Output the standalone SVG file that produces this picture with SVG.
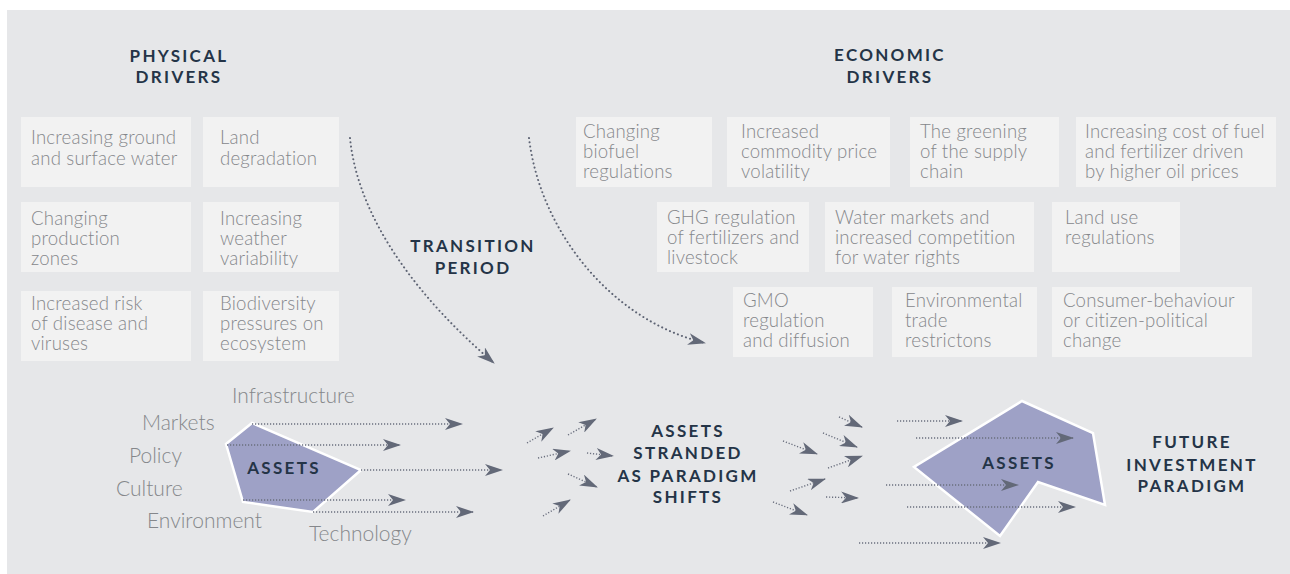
<svg xmlns="http://www.w3.org/2000/svg" width="1290" height="574" viewBox="0 0 1290 574">
<style>
.box{fill:#f2f2f2}
.t{font-family:Lato,"Open Sans","Liberation Sans",sans-serif;font-size:18.6px;font-weight:300;letter-spacing:0.2px;fill:#85878b}
.lbl{font-family:Lato,"Open Sans","Liberation Sans",sans-serif;font-size:21px;font-weight:300;fill:#85878b}
.h{font-family:Lato,"Open Sans","Liberation Sans",sans-serif;font-size:17px;font-weight:700;fill:#243447;letter-spacing:2.3px;text-anchor:middle}
.poly{fill:#9ea1c6;stroke:#ffffff;stroke-width:2.5;stroke-linejoin:miter}
.dl{fill:none;stroke:#6a6f7e;stroke-width:1.4;stroke-dasharray:1.2 1.8}
.curve{fill:none;stroke:#5d6373;stroke-width:2;stroke-linecap:round;stroke-dasharray:0.1 4.2}
</style>
<defs>
<marker id="ah" viewBox="0 0 18 12" refX="17" refY="6" markerWidth="18" markerHeight="12" markerUnits="userSpaceOnUse" orient="auto">
<path d="M0,0 L18,6 L0,12 L5,6 Z" fill="#636978"/>
</marker>
</defs>
<rect x="7" y="10" width="1283" height="564" fill="#e6e7e9"/>

<g id="physical-header">
<text class="h" x="179" y="62">PHYSICAL</text>
<text class="h" x="179" y="83">DRIVERS</text>
</g>
<g id="economic-header">
<text class="h" x="890" y="61">ECONOMIC</text>
<text class="h" x="890" y="83">DRIVERS</text>
</g>
<g id="transition-label">
<text class="h" x="473" y="252">TRANSITION</text>
<text class="h" x="473" y="274">PERIOD</text>
</g>

<g id="p1"><rect class="box" x="21" y="117" width="170" height="70"/><text class="t" x="31" y="144">Increasing ground<tspan x="31" y="165">and surface water</tspan></text></g>
<g id="p2"><rect class="box" x="203" y="117" width="136" height="70"/><text class="t" x="220" y="144">Land<tspan x="220" y="165">degradation</tspan></text></g>
<g id="p3"><rect class="box" x="21" y="202" width="170" height="70"/><text class="t" x="31" y="225">Changing<tspan x="31" y="245">production</tspan><tspan x="31" y="265">zones</tspan></text></g>
<g id="p4"><rect class="box" x="203" y="202" width="136" height="70"/><text class="t" x="220" y="225">Increasing<tspan x="220" y="245">weather</tspan><tspan x="220" y="265">variability</tspan></text></g>
<g id="p5"><rect class="box" x="21" y="291" width="170" height="70"/><text class="t" x="31" y="310">Increased risk<tspan x="31" y="330">of disease and</tspan><tspan x="31" y="350">viruses</tspan></text></g>
<g id="p6"><rect class="box" x="203" y="291" width="136" height="70"/><text class="t" x="220" y="310">Biodiversity<tspan x="220" y="330">pressures on</tspan><tspan x="220" y="350">ecosystem</tspan></text></g>

<g id="e1"><rect class="box" x="576" y="117" width="136" height="70"/><text class="t" x="583" y="138">Changing<tspan x="583" y="158">biofuel</tspan><tspan x="583" y="178">regulations</tspan></text></g>
<g id="e2"><rect class="box" x="727" y="117" width="163" height="70"/><text class="t" x="741" y="138">Increased<tspan x="741" y="158">commodity price</tspan><tspan x="741" y="178">volatility</tspan></text></g>
<g id="e3"><rect class="box" x="910" y="117" width="149" height="70"/><text class="t" x="920" y="138">The greening<tspan x="920" y="158">of the supply</tspan><tspan x="920" y="178">chain</tspan></text></g>
<g id="e4"><rect class="box" x="1076" y="117" width="200" height="70"/><text class="t" x="1085" y="138">Increasing cost of fuel<tspan x="1085" y="158">and fertilizer driven</tspan><tspan x="1085" y="178">by higher oil prices</tspan></text></g>
<g id="e5"><rect class="box" x="657" y="202" width="152" height="70"/><text class="t" x="667" y="224">GHG regulation<tspan x="667" y="244">of fertilizers and</tspan><tspan x="667" y="264">livestock</tspan></text></g>
<g id="e6"><rect class="box" x="825" y="202" width="209" height="70"/><text class="t" x="835" y="224">Water markets and<tspan x="835" y="244">increased competition</tspan><tspan x="835" y="264">for water rights</tspan></text></g>
<g id="e7"><rect class="box" x="1052" y="202" width="128" height="70"/><text class="t" x="1065" y="224">Land use<tspan x="1065" y="244">regulations</tspan></text></g>
<g id="e8"><rect class="box" x="733" y="287" width="140" height="70"/><text class="t" x="743" y="307">GMO<tspan x="743" y="327">regulation</tspan><tspan x="743" y="347">and diffusion</tspan></text></g>
<g id="e9"><rect class="box" x="892" y="287" width="145" height="70"/><text class="t" x="905" y="307">Environmental<tspan x="905" y="327">trade</tspan><tspan x="905" y="347">restrictons</tspan></text></g>
<g id="e10"><rect class="box" x="1052" y="287" width="200" height="70"/><text class="t" x="1063" y="307">Consumer-behaviour<tspan x="1063" y="327">or citizen-political</tspan><tspan x="1063" y="347">change</tspan></text></g>

<g id="assets-now">
<polygon class="poly" points="252,423 361,470 313,512 243,502 226,444"/>
<text class="h" x="284" y="474">ASSETS</text>
</g>
<g id="factor-labels">
<text class="lbl" x="232" y="403">Infrastructure</text>
<text class="lbl" x="142" y="430">Markets</text>
<text class="lbl" x="129" y="463">Policy</text>
<text class="lbl" x="116" y="496">Culture</text>
<text class="lbl" x="147" y="528">Environment</text>
<text class="lbl" x="309" y="541">Technology</text>
</g>
<g id="stranded-label">
<text class="h" x="688" y="437">ASSETS</text>
<text class="h" x="688" y="459">STRANDED</text>
<text class="h" x="688" y="482">AS PARADIGM</text>
<text class="h" x="688" y="503">SHIFTS</text>
</g>
<g id="assets-future">
<polygon class="poly" points="1022,401 1093,433 1105,505 1038,482 1000,536 914,467"/>
<text class="h" x="1019" y="469">ASSETS</text>
</g>
<g id="future-label">
<text class="h" x="1192" y="448">FUTURE</text>
<text class="h" x="1192" y="471">INVESTMENT</text>
<text class="h" x="1192" y="492">PARADIGM</text>
</g>

<g id="connectors" marker-end="url(#ah)">
<path class="curve" d="M350,138 C358,220 420,300 494,363"/>
<path class="curve" d="M529,138 C540,230 610,320 705,343"/>
<path class="dl" d="M252,424 H462"/>
<path class="dl" d="M227,445 H400"/>
<path class="dl" d="M361,470 H502"/>
<path class="dl" d="M243,500 H405"/>
<path class="dl" d="M313,512 H473"/>
<path class="dl" d="M527,443 L553,428"/>
<path class="dl" d="M568,435 L596,419"/>
<path class="dl" d="M538,458 L570,451"/>
<path class="dl" d="M587,453 L613,456"/>
<path class="dl" d="M568,474 L597,487"/>
<path class="dl" d="M543,516 L570,500"/>
<path class="dl" d="M839,417 L862,427"/>
<path class="dl" d="M823,433 L857,447"/>
<path class="dl" d="M783,441 L817,454"/>
<path class="dl" d="M828,468 L862,456"/>
<path class="dl" d="M790,491 L825,479"/>
<path class="dl" d="M826,497 L858,498"/>
<path class="dl" d="M773,502 L807,515"/>
<path class="dl" d="M897,421 H962"/>
<path class="dl" d="M916,438 H1073"/>
<path class="dl" d="M886,485 H1018"/>
<path class="dl" d="M907,507 H1075"/>
<path class="dl" d="M859,543 H1000"/>
</g>
</svg>
